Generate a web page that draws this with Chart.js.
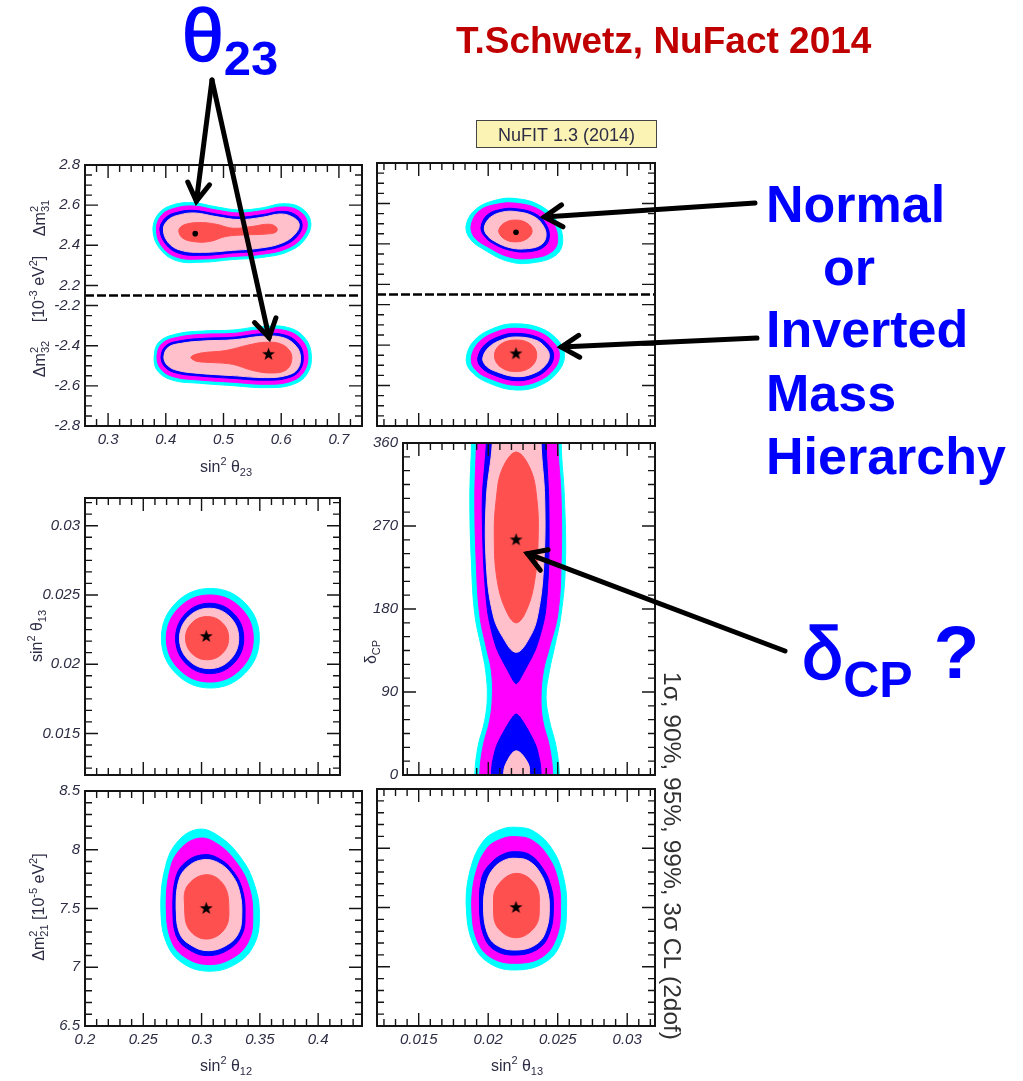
<!DOCTYPE html>
<html>
<head>
<meta charset="utf-8">
<script src="https://cdn.jsdelivr.net/npm/chart.js@4.4.1/dist/chart.umd.min.js"></script>
<style>
  html, body { margin: 0; padding: 0; background: #fff; }
  #page { position: relative; width: 1023px; height: 1081px; overflow: hidden; }
  #page canvas { position: absolute; }
</style>
</head>
<body>
<div id="page"></div>
<script>
// allowed-region colours, outermost first: 3σ, 99%, 95%, 90%, 1σ
const levelColors = ['#00ffff', '#ff00ff', '#0000ff', '#ffc0cb', '#ff5050'];

// tick values and labels
const t23Ticks = [0.3, 0.4, 0.5, 0.6, 0.7];
const t23Labels = ['0.3', '0.4', '0.5', '0.6', '0.7'];
const dm3Ticks = [-2.8, -2.6, -2.4, -2.2, 2.2, 2.4, 2.6, 2.8];
const dm3Labels = ['-2.8', '-2.6', '-2.4', '-2.2', '2.2', '2.4', '2.6', '2.8'];
const s13Ticks = [0.015, 0.02, 0.025, 0.03];
const s13Labels = ['0.015', '0.02', '0.025', '0.03'];
const s12Ticks = [0.2, 0.25, 0.3, 0.35, 0.4];
const s12Labels = ['0.2', '0.25', '0.3', '0.35', '0.4'];
const cpTicks = [0, 90, 180, 270, 360];
const cpLabels = ['0', '90', '180', '270', '360'];
const dm21Ticks = [6.5, 7, 7.5, 8, 8.5];
const dm21Labels = ['6.5', '7', '7.5', '8', '8.5'];

// best fit points
const bfT23 = [0.451, 0.578];      // normal, inverted
const bfDm3 = [2.458, -2.443];     // Δm²31 (NO), Δm²32 (IO)
const bfS13 = 0.022;
const bfS12 = 0.304;
const bfDm21 = 7.50;
const bfCP = 255;

// sin²θ23 vs Δm²3ℓ, normal ordering
const t23NoCyan = [[0.378,2.482],[0.388,2.559],[0.412,2.601],[0.447,2.612],[0.487,2.592],[0.527,2.576],[0.568,2.587],[0.602,2.607],[0.634,2.587],[0.651,2.518],[0.642,2.433],[0.613,2.370],[0.568,2.340],[0.516,2.329],[0.464,2.316],[0.418,2.324],[0.388,2.390]];
const t23NoMagenta = [[0.384,2.482],[0.393,2.551],[0.415,2.584],[0.447,2.596],[0.487,2.576],[0.527,2.561],[0.568,2.573],[0.601,2.591],[0.629,2.574],[0.645,2.515],[0.636,2.439],[0.609,2.383],[0.566,2.355],[0.516,2.344],[0.464,2.332],[0.420,2.340],[0.393,2.396]];
const t23NoBlue = [[0.390,2.482],[0.400,2.538],[0.419,2.564],[0.448,2.574],[0.487,2.556],[0.527,2.541],[0.568,2.553],[0.599,2.569],[0.623,2.555],[0.636,2.510],[0.629,2.449],[0.605,2.400],[0.565,2.373],[0.516,2.362],[0.464,2.350],[0.423,2.360],[0.400,2.406]];
const t23NoPink = [[0.396,2.482],[0.405,2.528],[0.423,2.551],[0.450,2.561],[0.487,2.543],[0.527,2.528],[0.568,2.540],[0.598,2.556],[0.618,2.543],[0.631,2.507],[0.624,2.456],[0.601,2.411],[0.563,2.386],[0.516,2.375],[0.464,2.365],[0.426,2.375],[0.404,2.415]];
const t23NoRed = [[0.423,2.477],[0.432,2.502],[0.458,2.513],[0.487,2.505],[0.516,2.485],[0.550,2.494],[0.579,2.505],[0.592,2.489],[0.591,2.466],[0.573,2.456],[0.539,2.452],[0.504,2.444],[0.476,2.419],[0.447,2.419],[0.428,2.439]];

// sin²θ23 vs Δm²3ℓ, inverted ordering
const t23IoCyan = [[0.380,-2.457],[0.388,-2.383],[0.418,-2.342],[0.464,-2.327],[0.516,-2.322],[0.568,-2.304],[0.611,-2.309],[0.639,-2.355],[0.652,-2.441],[0.645,-2.540],[0.619,-2.594],[0.573,-2.609],[0.516,-2.599],[0.458,-2.587],[0.412,-2.572],[0.386,-2.526]];
const t23IoMagenta = [[0.385,-2.457],[0.393,-2.391],[0.421,-2.358],[0.465,-2.343],[0.516,-2.339],[0.568,-2.320],[0.608,-2.325],[0.634,-2.367],[0.646,-2.441],[0.639,-2.531],[0.615,-2.579],[0.573,-2.592],[0.516,-2.582],[0.458,-2.571],[0.415,-2.556],[0.392,-2.518]];
const t23IoBlue = [[0.392,-2.457],[0.400,-2.401],[0.424,-2.376],[0.467,-2.363],[0.516,-2.358],[0.568,-2.340],[0.604,-2.345],[0.627,-2.381],[0.638,-2.444],[0.632,-2.523],[0.611,-2.561],[0.573,-2.572],[0.516,-2.563],[0.458,-2.551],[0.418,-2.536],[0.399,-2.507]];
const t23IoPink = [[0.397,-2.457],[0.404,-2.409],[0.427,-2.388],[0.469,-2.376],[0.516,-2.371],[0.568,-2.353],[0.601,-2.358],[0.622,-2.391],[0.633,-2.446],[0.628,-2.517],[0.608,-2.549],[0.573,-2.559],[0.516,-2.549],[0.458,-2.538],[0.420,-2.523],[0.403,-2.498]];
const t23IoRed = [[0.444,-2.457],[0.461,-2.437],[0.504,-2.424],[0.544,-2.396],[0.573,-2.383],[0.599,-2.391],[0.615,-2.427],[0.618,-2.474],[0.609,-2.520],[0.585,-2.536],[0.550,-2.523],[0.516,-2.493],[0.481,-2.484],[0.453,-2.477]];

// sin²θ13 vs Δm²3ℓ
const t13NoCyan = [[0.01843,2.494],[0.01910,2.571],[0.02058,2.617],[0.02201,2.624],[0.02368,2.592],[0.02488,2.518],[0.02536,2.419],[0.02488,2.345],[0.02321,2.307],[0.02153,2.312],[0.01974,2.370],[0.01867,2.428]];
const t13NoMagenta = [[0.01879,2.494],[0.01938,2.564],[0.02070,2.597],[0.02201,2.601],[0.02357,2.573],[0.02459,2.510],[0.02500,2.423],[0.02459,2.362],[0.02321,2.330],[0.02158,2.334],[0.01993,2.387],[0.01898,2.436]];
const t13NoBlue = [[0.01950,2.485],[0.01993,2.543],[0.02094,2.571],[0.02201,2.574],[0.02333,2.551],[0.02411,2.502],[0.02440,2.439],[0.02404,2.387],[0.02297,2.362],[0.02165,2.367],[0.02034,2.403],[0.01967,2.444]];
const t13NoPink = [[0.01974,2.485],[0.02015,2.531],[0.02106,2.558],[0.02206,2.559],[0.02321,2.538],[0.02392,2.494],[0.02416,2.439],[0.02380,2.396],[0.02285,2.377],[0.02165,2.380],[0.02046,2.413],[0.01986,2.449]];
const t13NoRed = [[0.02077,2.464],[0.02113,2.502],[0.02196,2.518],[0.02280,2.502],[0.02316,2.464],[0.02280,2.426],[0.02196,2.410],[0.02113,2.426]];
const t13IoCyan = [[0.01843,-2.465],[0.01903,-2.375],[0.02058,-2.312],[0.02201,-2.295],[0.02380,-2.317],[0.02500,-2.375],[0.02548,-2.441],[0.02512,-2.523],[0.02380,-2.597],[0.02201,-2.622],[0.02010,-2.589],[0.01879,-2.531]];
const t13IoMagenta = [[0.01879,-2.465],[0.01934,-2.386],[0.02070,-2.332],[0.02201,-2.317],[0.02368,-2.337],[0.02471,-2.388],[0.02512,-2.444],[0.02478,-2.515],[0.02364,-2.576],[0.02201,-2.599],[0.02022,-2.568],[0.01910,-2.523]];
const t13IoBlue = [[0.01926,-2.465],[0.01974,-2.400],[0.02089,-2.355],[0.02201,-2.342],[0.02352,-2.360],[0.02435,-2.401],[0.02471,-2.449],[0.02440,-2.507],[0.02345,-2.556],[0.02201,-2.576],[0.02041,-2.548],[0.01950,-2.510]];
const t13IoPink = [[0.01962,-2.465],[0.02005,-2.411],[0.02106,-2.372],[0.02206,-2.360],[0.02340,-2.375],[0.02411,-2.411],[0.02440,-2.452],[0.02411,-2.500],[0.02328,-2.540],[0.02201,-2.556],[0.02058,-2.531],[0.01986,-2.503]];
const t13IoRed = [[0.02046,-2.454],[0.02082,-2.400],[0.02196,-2.375],[0.02309,-2.396],[0.02349,-2.449],[0.02309,-2.507],[0.02196,-2.531],[0.02086,-2.507]];

// sin²θ12 vs sin²θ13
const s12s13Cyan = [[0.2656,0.02188],[0.2779,0.02442],[0.3076,0.02547],[0.3373,0.02442],[0.3496,0.02188],[0.3373,0.01934],[0.3076,0.01828],[0.2779,0.01934]];
const s12s13Magenta = [[0.2698,0.02186],[0.2807,0.02408],[0.3071,0.02500],[0.3335,0.02408],[0.3444,0.02186],[0.3335,0.01964],[0.3071,0.01871],[0.2807,0.01964]];
const s12s13Blue = [[0.2778,0.02186],[0.2864,0.02366],[0.3070,0.02440],[0.3276,0.02366],[0.3362,0.02186],[0.3276,0.02006],[0.3070,0.01932],[0.2864,0.02006]];
const s12s13Pink = [[0.2812,0.02186],[0.2886,0.02340],[0.3066,0.02404],[0.3245,0.02340],[0.3319,0.02186],[0.3245,0.02032],[0.3066,0.01968],[0.2886,0.02032]];
const s12s13Red = [[0.2863,0.02188],[0.2917,0.02298],[0.3048,0.02344],[0.3179,0.02298],[0.3233,0.02188],[0.3179,0.02078],[0.3048,0.02032],[0.2917,0.02078]];

// sin²θ13 vs δCP (periodic in δ, bands run past both edges)
const cpCyan = [[0.01879,420],[0.01879,360],[0.01867,300],[0.01879,228],[0.01903,174],[0.01950,138],[0.01981,113],[0.01993,85],[0.01974,59],[0.01926,31],[0.01903,0],[0.01903,-60],[0.02512,-60],[0.02512,0],[0.02488,31],[0.02440,59],[0.02416,85],[0.02440,113],[0.02476,138],[0.02524,174],[0.02555,228],[0.02548,300],[0.02524,360],[0.02524,420]];
const cpMagenta = [[0.01914,420],[0.01914,360],[0.01903,300],[0.01914,228],[0.01938,174],[0.01986,138],[0.02022,113],[0.02029,85],[0.02010,59],[0.01962,31],[0.01938,0],[0.01938,-60],[0.02464,-60],[0.02464,0],[0.02440,31],[0.02392,59],[0.02380,85],[0.02397,113],[0.02440,138],[0.02500,174],[0.02524,228],[0.02524,300],[0.02500,360],[0.02500,420]];
const cpBlueUpper = [[0.01986,420],[0.01986,360],[0.01957,300],[0.01967,228],[0.01998,174],[0.02058,138],[0.02141,113],[0.02201,99],[0.02261,113],[0.02345,138],[0.02409,174],[0.02435,228],[0.02435,300],[0.02416,360],[0.02416,420]];
const cpBlueLower = [[0.02201,66],[0.02285,49],[0.02345,31],[0.02373,13],[0.02380,0],[0.02380,-60],[0.02022,-60],[0.02022,0],[0.02029,13],[0.02058,31],[0.02118,49]];
const cpPinkUpper = [[0.02029,420],[0.02029,360],[0.01986,300],[0.01986,228],[0.02034,174],[0.02106,149],[0.02201,133],[0.02297,149],[0.02357,174],[0.02399,228],[0.02406,300],[0.02380,360],[0.02380,420]];
const cpPinkLower = [[0.02201,26],[0.02285,13],[0.02297,0],[0.02297,-60],[0.02110,-60],[0.02110,0],[0.02129,13]];
const cpRed = [[0.02201,350],[0.02302,332],[0.02349,300],[0.02359,257],[0.02333,210],[0.02273,178],[0.02201,165],[0.02129,178],[0.02065,210],[0.02043,257],[0.02058,300],[0.02101,332]];

// sin²θ12 vs Δm²21
const s12dm21Cyan = [[0.2652,7.507],[0.2684,7.831],[0.2783,8.056],[0.2969,8.174],[0.3154,8.112],[0.3339,7.929],[0.3453,7.704],[0.3496,7.451],[0.3453,7.198],[0.3296,7.029],[0.3054,6.967],[0.2826,7.043],[0.2692,7.226]];
const s12dm21Magenta = [[0.2698,7.507],[0.2726,7.816],[0.2812,7.999],[0.2977,8.098],[0.3140,8.047],[0.3302,7.887],[0.3405,7.690],[0.3439,7.451],[0.3405,7.226],[0.3268,7.080],[0.3054,7.023],[0.2846,7.094],[0.2735,7.240]];
const s12dm21Blue = [[0.2755,7.501],[0.2778,7.760],[0.2855,7.887],[0.3006,7.957],[0.3154,7.923],[0.3282,7.802],[0.3353,7.648],[0.3373,7.451],[0.3348,7.282],[0.3239,7.155],[0.3054,7.099],[0.2883,7.155],[0.2783,7.268]];
const s12dm21Pink = [[0.2783,7.499],[0.2803,7.732],[0.2875,7.850],[0.3011,7.915],[0.3154,7.884],[0.3268,7.774],[0.3328,7.634],[0.3345,7.451],[0.3319,7.296],[0.3222,7.192],[0.3054,7.141],[0.2903,7.192],[0.2812,7.290]];
const s12dm21Red = [[0.2855,7.507],[0.2877,7.690],[0.3040,7.788],[0.3188,7.704],[0.3234,7.507],[0.3197,7.324],[0.3040,7.240],[0.2892,7.324]];

// sin²θ13 vs Δm²21
const s13dm21Cyan = [[0.01843,7.507],[0.01871,7.816],[0.01962,8.056],[0.02082,8.154],[0.02201,8.177],[0.02333,8.140],[0.02464,7.985],[0.02541,7.760],[0.02564,7.507],[0.02531,7.226],[0.02416,7.043],[0.02201,6.973],[0.02010,7.029],[0.01891,7.198]];
const s13dm21Magenta = [[0.01883,7.507],[0.01910,7.788],[0.01991,7.999],[0.02094,8.078],[0.02201,8.098],[0.02321,8.064],[0.02435,7.923],[0.02502,7.732],[0.02521,7.507],[0.02493,7.254],[0.02392,7.085],[0.02201,7.029],[0.02022,7.077],[0.01919,7.226]];
const s13dm21Blue = [[0.01938,7.507],[0.01957,7.760],[0.02022,7.878],[0.02110,7.951],[0.02201,7.971],[0.02302,7.943],[0.02392,7.831],[0.02452,7.676],[0.02469,7.507],[0.02445,7.296],[0.02364,7.155],[0.02201,7.099],[0.02046,7.141],[0.01967,7.268]];
const s13dm21Pink = [[0.01967,7.507],[0.01986,7.704],[0.02039,7.831],[0.02120,7.901],[0.02201,7.915],[0.02292,7.892],[0.02373,7.794],[0.02423,7.653],[0.02440,7.507],[0.02419,7.316],[0.02349,7.192],[0.02201,7.141],[0.02058,7.184],[0.01991,7.296]];
const s13dm21Red = [[0.02039,7.507],[0.02063,7.676],[0.02201,7.788],[0.02340,7.690],[0.02368,7.507],[0.02337,7.338],[0.02201,7.245],[0.02067,7.333]];

const FONT = "'Liberation Sans', Arial, Helvetica, sans-serif";
const INK = '#2c2c44';
const M = {l: 80, t: 12, r: 6, b: 34};
const page = document.getElementById('page');

// the Δm²3ℓ axis is split: both branches are drawn on one scale with the gap squeezed out
const toU = m => m > 0 ? m - 2.15 : m + 2.15;

function steps(a, b, s) {
  const out = [];
  for (let v = a; v <= b + s * 1e-6; v += s) out.push(+v.toFixed(6));
  return out;
}

// filled five point star used as best-fit marker
const starImg = document.createElement('canvas');
starImg.width = starImg.height = 15;
{
  const sc = starImg.getContext('2d');
  sc.translate(7.5, 7.5);
  sc.beginPath();
  for (let i = 0; i < 10; i++) {
    const r = i % 2 ? 2.7 : 6.8, ang = -Math.PI / 2 + i * Math.PI / 5;
    sc.lineTo(r * Math.cos(ang), r * Math.sin(ang));
  }
  sc.closePath();
  sc.fillStyle = '#000';
  sc.fill();
}

function shape(pts, color, order, tf, tension) {
  // wrap the first points round so the spline closes smoothly
  const ring = [pts[pts.length - 1], ...pts, pts[0], pts[1]];
  return {
    data: ring.map(([x, y]) => ({x, y: tf ? tf(y) : y})),
    showLine: true, fill: 'shape', tension: tension ?? 0.4,
    backgroundColor: color, borderColor: color, borderWidth: 1,
    pointRadius: 0, order
  };
}

function levels(list, tf) {
  return list.map((pts, i) => shape(pts, levelColors[i], 5 - i, tf));
}

function marker(x, y, style) {
  return {
    data: [{x, y}], pointStyle: style, pointRadius: style === 'circle' ? 2.8 : 7,
    backgroundColor: '#000', borderColor: '#000', borderWidth: 0, order: 0
  };
}

function dashed(x0, x1) {
  return {
    data: [{x: x0, y: 0}, {x: x1, y: 0}], showLine: true, fill: false, tension: 0,
    borderColor: '#000', borderWidth: 2.5, borderDash: [9, 3], pointRadius: 0, order: 0
  };
}

function axis(kind, a) {
  return {
    type: 'linear', min: a.min, max: a.max,
    position: kind === 'x' ? 'bottom' : 'left',
    grid: {display: false, drawTicks: false, tickLength: 0},
    border: {display: false},
    ticks: {
      display: !!a.labels, autoSkip: false, maxRotation: 0, padding: 5,
      color: INK, font: {family: FONT, size: 15, style: 'italic'},
      callback: (v, i) => a.labels ? a.labels[i] : ''
    },
    afterBuildTicks: s => { s.ticks = a.major.map(v => ({value: v})); },
    afterFit: s => { if (kind === 'x') s.height = M.b; else s.width = M.l; }
  };
}

// box with inward major/minor ticks on all four sides
function frame(xa, ya) {
  return {
    id: 'frame',
    afterDatasetsDraw(chart) {
      const {ctx, chartArea: a} = chart;
      const sx = chart.scales.x, sy = chart.scales.y;
      ctx.save();
      ctx.strokeStyle = '#141414';
      ctx.lineWidth = 1.4;
      ctx.beginPath();
      const ticks = (vals, len, horiz) => {
        for (const v of vals) {
          if (horiz) {
            const p = sx.getPixelForValue(v);
            if (p <= a.left + 1 || p >= a.right - 1) continue;
            ctx.moveTo(p, a.bottom); ctx.lineTo(p, a.bottom - len);
            ctx.moveTo(p, a.top); ctx.lineTo(p, a.top + len);
          } else {
            const p = sy.getPixelForValue(v);
            if (p <= a.top + 1 || p >= a.bottom - 1) continue;
            ctx.moveTo(a.left, p); ctx.lineTo(a.left + len, p);
            ctx.moveTo(a.right, p); ctx.lineTo(a.right - len, p);
          }
        }
      };
      ticks(xa.minor, 7, true);
      ticks(xa.major, 13, true);
      ticks(ya.minor, 7, false);
      ticks(ya.major, 13, false);
      ctx.stroke();
      ctx.lineWidth = 2;
      ctx.strokeRect(a.left, a.top, a.right - a.left, a.bottom - a.top);
      ctx.restore();
    }
  };
}

function makePanel(box, xa, ya, datasets) {
  const [l, t, r, b] = box;
  const cv = document.createElement('canvas');
  const w = r - l + M.l + M.r, h = b - t + M.t + M.b;
  cv.width = w; cv.height = h;
  cv.style.left = (l - M.l) + 'px';
  cv.style.top = (t - M.t) + 'px';
  cv.style.width = w + 'px';
  cv.style.height = h + 'px';
  page.appendChild(cv);
  const chart = new Chart(cv, {
    type: 'scatter',
    data: {datasets},
    options: {
      responsive: false, animation: false, events: [],
      layout: {padding: {top: M.t, right: M.r, left: 0, bottom: 0}},
      plugins: {legend: {display: false}, tooltip: {enabled: false}},
      scales: {x: axis('x', xa), y: axis('y', ya)}
    },
    plugins: [frame(xa, ya)]
  });
  chart.$off = {x: l - M.l, y: t - M.t};
  return chart;
}

const s13Minor = steps(0.0125, 0.0317, 0.005 / 6);
const axT23 = {min: 0.26, max: 0.74, major: t23Ticks, labels: t23Labels, minor: steps(0.28, 0.72, 0.02)};
const axDm3 = {min: -0.65, max: 0.65, major: dm3Ticks.map(toU), labels: null,
  minor: [...steps(2.2, 2.8, 0.05), ...steps(-2.8, -2.2, 0.05)].map(toU)};
const axS13 = {min: 0.012, max: 0.032, major: s13Ticks, labels: null, minor: s13Minor};
const axS12 = {max: 0.4376, min: 0.2, major: s12Ticks, labels: null, minor: steps(0.2, 0.43, 0.01)};
const axDm21 = {min: 6.5, max: 8.5, major: dm21Ticks, labels: null, minor: steps(6.5, 8.5, 0.1)};
const axCP = {min: 0, max: 360, major: cpTicks, labels: cpLabels, minor: steps(0, 360, 15)};

const charts = {};

charts.tl = makePanel([85, 163, 363, 426], axT23, {...axDm3, labels: dm3Labels}, [
  marker(bfT23[0], toU(bfDm3[0]), 'circle'),
  marker(bfT23[1], toU(bfDm3[1]), starImg),
  dashed(0.26, 0.74),
  ...levels([t23NoCyan, t23NoMagenta, t23NoBlue, t23NoPink, t23NoRed], toU),
  ...levels([t23IoCyan, t23IoMagenta, t23IoBlue, t23IoPink, t23IoRed], toU)
]);

charts.tr = makePanel([377, 163, 656, 426], axS13, axDm3, [
  marker(bfS13, toU(bfDm3[0]), 'circle'),
  marker(bfS13, toU(bfDm3[1]), starImg),
  dashed(0.012, 0.032),
  ...levels([t13NoCyan, t13NoMagenta, t13NoBlue, t13NoPink, t13NoRed], toU),
  ...levels([t13IoCyan, t13IoMagenta, t13IoBlue, t13IoPink, t13IoRed], toU)
]);

charts.ml = makePanel([85, 496, 341, 775], {...axS12, max: 0.4188},
  {...axS13, labels: s13Labels}, [
  marker(bfS12, bfS13, starImg),
  ...levels([s12s13Cyan, s12s13Magenta, s12s13Blue, s12s13Pink, s12s13Red])
]);

charts.mr = makePanel([403, 441, 656, 775], {...axS13, min: 0.01386}, axCP, [
  marker(bfS13, bfCP, starImg),
  shape(cpRed, levelColors[4], 1),
  shape(cpPinkUpper, levelColors[3], 2),
  shape(cpPinkLower, levelColors[3], 2),
  shape(cpBlueUpper, levelColors[2], 3, null, 0.25),
  shape(cpBlueLower, levelColors[2], 3, null, 0.25),
  shape(cpMagenta, levelColors[1], 4),
  shape(cpCyan, levelColors[0], 5)
]);

charts.bl = makePanel([85, 789, 363, 1026], {...axS12, labels: s12Labels},
  {...axDm21, labels: dm21Labels}, [
  marker(bfS12, bfDm21, starImg),
  ...levels([s12dm21Cyan, s12dm21Magenta, s12dm21Blue, s12dm21Pink, s12dm21Red])
]);

charts.br = makePanel([377, 789, 656, 1026], {...axS13, labels: s13Labels}, axDm21, [
  marker(bfS13, bfDm21, starImg),
  ...levels([s13dm21Cyan, s13dm21Magenta, s13dm21Blue, s13dm21Pink, s13dm21Red])
]);

// ---- overlay: axis titles, annotations and arrows ----
const ov = document.createElement('canvas');
ov.width = 1023; ov.height = 1081;
ov.style.left = '0px'; ov.style.top = '0px';
page.appendChild(ov);
const g = ov.getContext('2d');

const fontOf = p => `${p.it ? 'italic ' : ''}${p.w || 'normal'} ${p.s}px ${FONT}`;

// draws text made of pieces with their own size and baseline shift;
// a piece with stack:true starts where the previous one started,
// a piece with heavy:n gets an extra outline of that width
function richText(ctx, parts, x, y, {rotate = 0, align = 'left', color = INK} = {}) {
  ctx.save();
  ctx.translate(x, y);
  ctx.rotate(rotate);
  ctx.fillStyle = color;
  ctx.strokeStyle = color;
  ctx.textBaseline = 'alphabetic';
  ctx.textAlign = 'left';
  const placed = [];
  let cursor = 0, lastStart = 0;
  for (const p of parts) {
    ctx.font = fontOf(p);
    const w = ctx.measureText(p.t).width;
    const start = p.stack ? lastStart : cursor;
    placed.push([p, start]);
    lastStart = start;
    cursor = Math.max(cursor, start + w);
  }
  const shift = align === 'center' ? -cursor / 2 : align === 'right' ? -cursor : 0;
  for (const [p, start] of placed) {
    ctx.font = fontOf(p);
    ctx.fillText(p.t, start + shift, p.dy || 0);
    if (p.heavy) {
      ctx.lineWidth = p.heavy;
      ctx.strokeText(p.t, start + shift, p.dy || 0);
    }
  }
  ctx.restore();
}

const big = 16, sm = 11;
const sup = t => ({t, s: sm, dy: -7});
const sub = (t, stack) => ({t, s: sm, dy: 4, stack});
const up = -Math.PI / 2;

// axis titles
richText(g, [{t: 'Δm', s: big}, sup('2'), sub('31', true)], 45, 218, {rotate: up, align: 'center'});
richText(g, [{t: '[10', s: big}, sup('-3'), {t: ' eV', s: big}, sup('2'), {t: ']', s: big}], 44, 289, {rotate: up, align: 'center'});
richText(g, [{t: 'Δm', s: big}, sup('2'), sub('32', true)], 45, 359, {rotate: up, align: 'center'});
richText(g, [{t: 'sin', s: big}, sup('2'), {t: ' θ', s: big}, sub('23')], 226, 472, {align: 'center'});
richText(g, [{t: 'sin', s: big}, sup('2'), {t: ' θ', s: big}, sub('13')], 42, 636, {rotate: up, align: 'center'});
richText(g, [{t: 'δ', s: big}, sub('CP')], 376, 652, {rotate: up, align: 'center'});
richText(g, [{t: 'Δm', s: big}, sup('2'), sub('21', true), {t: ' [10', s: big}, sup('-5'), {t: ' eV', s: big}, sup('2'), {t: ']', s: big}],
  44, 907, {rotate: up, align: 'center'});
richText(g, [{t: 'sin', s: big}, sup('2'), {t: ' θ', s: big}, sub('12')], 226, 1071, {align: 'center'});
richText(g, [{t: 'sin', s: big}, sup('2'), {t: ' θ', s: big}, sub('13')], 517, 1071, {align: 'center'});

// confidence level note along the right side
richText(g, [{t: '1σ, 90%, 95%, 99%, 3σ CL (2dof)', s: 24.5}], 664, 672, {rotate: Math.PI / 2, color: '#303030'});

// fit tag
g.fillStyle = '#fbf3b4';
g.fillRect(476, 120, 181, 28);
g.strokeStyle = '#444';
g.lineWidth = 1;
g.strokeRect(476.5, 120.5, 180, 27);
richText(g, [{t: 'NuFIT 1.3 (2014)', s: 18}], 566.5, 141, {align: 'center'});

// talk credit
richText(g, [{t: 'T.Schwetz, NuFact 2014', s: 37, w: 'bold'}], 456, 53, {color: '#c00000'});

// blue annotations
const BLUE = '#0000ff';
richText(g, [{t: 'θ', s: 75, heavy: 1.6}, {t: '23', s: 49, w: 'bold', dy: 14}], 182, 61, {color: BLUE});
richText(g, [{t: 'δ', s: 74, heavy: 1.6}, {t: 'CP', s: 50, w: 'bold', dy: 18}, {t: ' ?', s: 75, w: 'bold', dy: -1}], 802, 679, {color: BLUE});
const hierLines = [['Normal', 766, 222], ['or', 823, 285], ['Inverted', 766, 347], ['Mass', 766, 411], ['Hierarchy', 766, 474]];
for (const [t, x, y] of hierLines) richText(g, [{t, s: 52, w: 'bold'}], x, y, {color: BLUE});

// arrows: tails in page pixels, heads at data points of a panel
function at(chart, x, y) {
  return [chart.scales.x.getPixelForValue(x) + chart.$off.x, chart.scales.y.getPixelForValue(y) + chart.$off.y];
}
function arrow(ctx, [x0, y0], [x1, y1]) {
  const a = Math.atan2(y1 - y0, x1 - x0), h = 21, sp = 0.55;
  ctx.beginPath();
  ctx.moveTo(x0, y0);
  ctx.lineTo(x1, y1);
  ctx.stroke();
  ctx.beginPath();
  ctx.moveTo(x1 - h * Math.cos(a - sp), y1 - h * Math.sin(a - sp));
  ctx.lineTo(x1, y1);
  ctx.lineTo(x1 - h * Math.cos(a + sp), y1 - h * Math.sin(a + sp));
  ctx.stroke();
}
g.strokeStyle = '#000';
g.lineWidth = 5;
g.lineCap = 'round';
g.lineJoin = 'miter';
arrow(g, [212, 80], at(charts.tl, 0.453, toU(2.62)));
arrow(g, [212, 80], at(charts.tl, 0.579, toU(-2.36)));
arrow(g, [755, 203], at(charts.tr, 0.02404, toU(2.533)));
arrow(g, [757, 338], at(charts.tr, 0.02526, toU(-2.41)));
arrow(g, [785, 651], at(charts.mr, 0.02282, 240));
</script>
</body>
</html>
